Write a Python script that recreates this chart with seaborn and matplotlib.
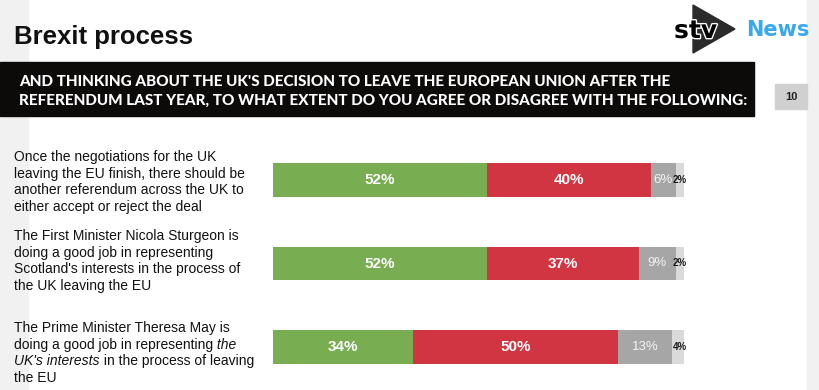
#!/usr/bin/env python

import numpy as np
import pandas as pd
import matplotlib
matplotlib.use('Agg')
import matplotlib.pyplot as plt
import matplotlib.patheffects as pe
from matplotlib.patches import Rectangle, Polygon
import seaborn as sns

# Chart content
TITLE = 'Brexit process'
QUESTION = ["AND THINKING ABOUT THE UK'S DECISION TO LEAVE THE EUROPEAN UNION AFTER THE",
            "REFERENDUM LAST YEAR, TO WHAT EXTENT DO YOU AGREE OR DISAGREE WITH THE FOLLOWING:"]
PAGE_NO = '10'
ITEMS = ['referendum', 'sturgeon', 'may']
STATEMENTS = [
    [[("Once the negotiations for the UK", 'normal')],
     [("leaving the EU finish, there should be", 'normal')],
     [("another referendum across the UK to", 'normal')],
     [("either accept or reject the deal", 'normal')]],
    [[("The First Minister Nicola Sturgeon is", 'normal')],
     [("doing a good job in representing", 'normal')],
     [("Scotland's interests in the process of", 'normal')],
     [("the UK leaving the EU", 'normal')]],
    [[("The Prime Minister Theresa May is", 'normal')],
     [("doing a good job in representing", 'normal'), (" the", 'italic')],
     [("UK's interests", 'italic'), (" in the process of leaving", 'normal')],
     [("the EU", 'normal')]],
]
AGREE = [52, 52, 34]
DISAGREE = [40, 37, 50]
NEITHER = [6, 9, 13]
DONT_KNOW = [2, 2, 4]

GREEN = '#78ad52'
RED = '#d13542'
GREY = '#a6a6a6'
LIGHT = '#dadada'

W, H = 819, 390


def draw_frame(bg):
    """Slide decoration: side strips, title, banner, page number, logo."""
    bg.add_patch(Rectangle((0, 0), 28, H, color='#f1f1f1', zorder=0))
    bg.add_patch(Rectangle((807, 0), 12, H, color='#f1f1f1', zorder=0))
    bg.text(14, 37, TITLE, fontsize=18.5, fontweight='bold', color='#111111',
            va='center', ha='left')
    bg.add_patch(Rectangle((0, 62), 754, 54, color='#0d0a0a', zorder=1))
    for line, y in zip(QUESTION, [82, 101]):
        bg.text(19, y, line, fontsize=10.95, fontweight='black', color='white',
                va='center', ha='left', family=['Lato', 'DejaVu Sans'], zorder=2)
    bg.add_patch(Rectangle((775, 84), 32, 25, color='#d0d0d0', zorder=1))
    bg.text(791, 97, PAGE_NO, fontsize=8, fontweight='bold', color='#222222',
            va='center', ha='center', zorder=2)
    # stv News logo
    bg.add_patch(Polygon([(693, 5), (693, 53), (735, 29)], closed=True,
                         color='#2b2b2b', zorder=1))
    bg.text(674, 31, 'stv', fontsize=18, fontweight='bold', color='black',
            va='center', ha='left', family='DejaVu Sans', zorder=2,
            path_effects=[pe.withStroke(linewidth=2, foreground='white')])
    bg.text(746, 30, 'News', fontsize=15, fontweight='bold', color='#3aa8f0',
            va='center', ha='left', family='DejaVu Sans', zorder=2)


def draw_statements(fig, bg):
    renderer = fig.canvas.get_renderer()
    centres = [182, 261, 353]
    step = 16.6
    for lines, yc in zip(STATEMENTS, centres):
        y0 = yc - step * (len(lines) - 1) / 2
        for k, pieces in enumerate(lines):
            x = 14
            for txt, style in pieces:
                t = bg.text(x, y0 + k * step, txt, fontsize=10, style=style,
                            color='#111111', va='center', ha='left')
                x = t.get_window_extent(renderer).x1


def main():
    sns.set_style('white')
    plt.rcParams['font.family'] = ['Liberation Sans', 'DejaVu Sans']

    fig = plt.figure(figsize=(W / 100, H / 100), dpi=100, facecolor='white')
    bg = fig.add_axes([0, 0, 1, 1])
    bg.set_xlim(0, W)
    bg.set_ylim(H, 0)
    bg.axis('off')
    draw_frame(bg)
    draw_statements(fig, bg)

    df = pd.DataFrame({'item': ITEMS, 'agree': AGREE, 'disagree': DISAGREE,
                       'neither': NEITHER, 'dk': DONT_KNOW})
    df['c1'] = df['agree']
    df['c2'] = df['c1'] + df['disagree']
    df['c3'] = df['c2'] + df['neither']
    df['c4'] = df['c3'] + df['dk']

    ax = fig.add_axes([273 / W, 1 - 388.75 / H, 411 / W, 250.5 / H])
    # stacked bars: draw cumulative totals from the longest down
    for col, colour in [('c4', LIGHT), ('c3', GREY), ('c2', RED), ('c1', GREEN)]:
        sns.barplot(data=df, x=col, y='item', orient='h', color=colour,
                    width=0.4, saturation=1, linewidth=0, ax=ax)
    ax.set_xlim(0, 100)
    ax.set_ylim(2.5, -0.5)
    ax.axis('off')

    for i, row in df.iterrows():
        ax.text(row['agree'] / 2, i, '%d%%' % row['agree'], color='white',
                fontsize=11, fontweight='bold', ha='center', va='center')
        ax.text(row['c1'] + row['disagree'] / 2, i, '%d%%' % row['disagree'],
                color='white', fontsize=11, fontweight='bold',
                ha='center', va='center')
        ax.text(row['c2'] + row['neither'] / 2, i, '%d%%' % row['neither'],
                color='#f4f4f4', fontsize=9.5, ha='center', va='center')
        ax.text(row['c3'] + row['dk'] / 2, i, '%d%%' % row['dk'],
                color='#1a1a1a', fontsize=7, fontweight='bold',
                ha='center', va='center')

    fig.savefig('out.png', dpi=100, facecolor='white')


if __name__ == '__main__':
    main()
